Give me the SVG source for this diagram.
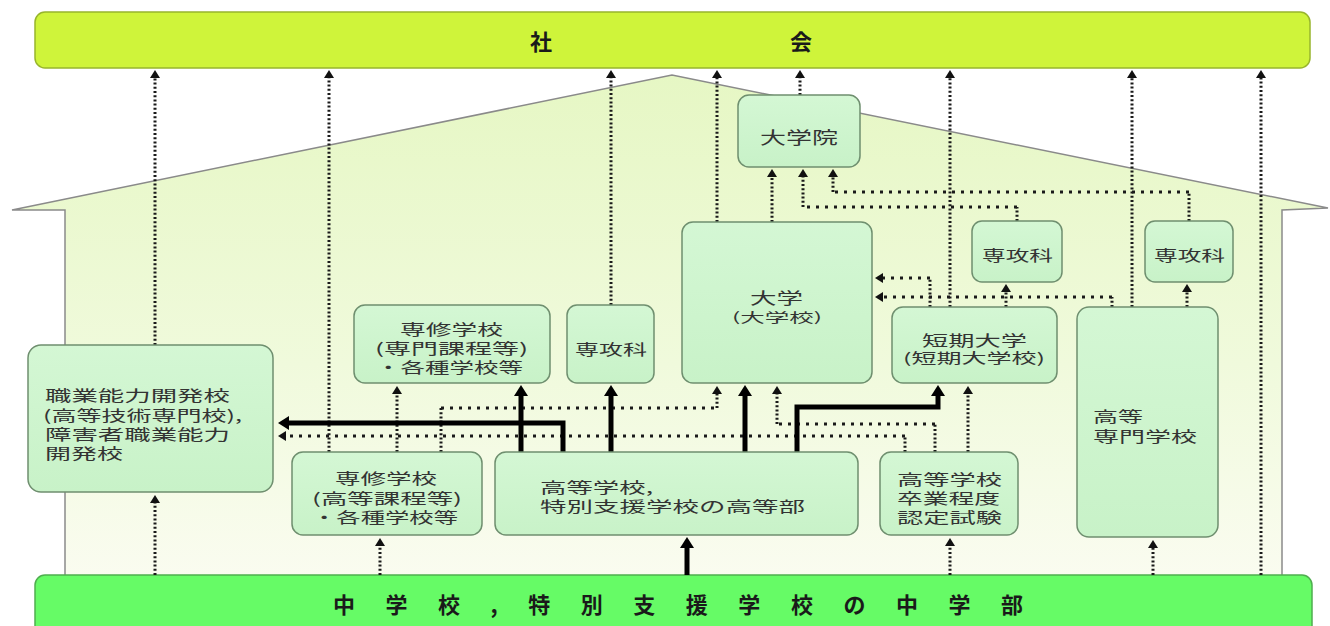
<svg xmlns="http://www.w3.org/2000/svg" width="1330" height="626" viewBox="0 0 1330 626">
<defs>
<linearGradient id="hg" x1="0" y1="0" x2="0" y2="1">
<stop offset="0" stop-color="#e6f7c4"/>
<stop offset="0.55" stop-color="#f0fadc"/>
<stop offset="1" stop-color="#fbfcf2"/>
</linearGradient>
<linearGradient id="ng" x1="0" y1="0" x2="0" y2="1">
<stop offset="0" stop-color="#d4f7d4"/>
<stop offset="1" stop-color="#c8f2c8"/>
</linearGradient>
<marker id="ad" viewBox="0 0 8 10" refX="4" refY="5" markerWidth="8" markerHeight="10" markerUnits="userSpaceOnUse" orient="auto">
<path d="M0,0 L8,5 L0,10 z" fill="#111"/>
</marker>
<marker id="as" viewBox="0 0 11 14" refX="5" refY="7" markerWidth="11" markerHeight="14" markerUnits="userSpaceOnUse" orient="auto">
<path d="M0,0 L11,7 L0,14 z" fill="#000"/>
</marker>
</defs>
<style>
.nd{fill:url(#ng);stroke:#6f8f6f;stroke-width:1.5}
.t{font-family:"Noto Sans CJK JP","Noto Sans CJK SC",sans-serif;font-size:15px;fill:#333;dominant-baseline:central}
.b{font-family:"Noto Sans CJK JP","Noto Sans CJK SC",sans-serif;font-size:22px;font-weight:bold;fill:#1a1a1a;dominant-baseline:central}
.dv{fill:none;stroke:#1a1a1a;stroke-width:3;stroke-dasharray:2 2.2}
.dh{fill:none;stroke:#1a1a1a;stroke-width:3;stroke-dasharray:3 6}
.s{fill:none;stroke:#000;stroke-width:5;stroke-linejoin:miter}
.ea{marker-end:url(#ad)}
.es{marker-end:url(#as)}
</style>

<g id="house">
<path d="M12,210 L672,75 L1328,208 L1282,210 L1282,600 L65,600 L65,210 Z" fill="url(#hg)" stroke="none"/>
<path d="M65,600 L65,210 L12,210 L672,75 L1328,208 L1282,210 L1282,600" fill="none" stroke="#8a8a8a" stroke-width="1.5"/>
</g>

<g id="shakai">
<rect x="35" y="12" width="1275" height="56" rx="10" fill="#cff43a" stroke="#98b52c" stroke-width="1.5"/>
<text class="b" x="541" y="40" text-anchor="middle">社</text>
<text class="b" x="801" y="40" text-anchor="middle">会</text>
</g>

<g id="chugakko">
<rect x="35" y="575" width="1277" height="70" rx="10" fill="#66fb66" stroke="#4fae4f" stroke-width="1.5"/>
<text class="b" x="333" y="603" textLength="690" lengthAdjust="spacing">中学校,特別支援学校の中学部</text>
</g>

<g id="connectors">
<line class="dv ea" x1="155" y1="345" x2="155" y2="74"/>
<line class="dv ea" x1="329" y1="452" x2="329" y2="74"/>
<line class="dv ea" x1="611" y1="305" x2="611" y2="74"/>
<line class="dv ea" x1="717" y1="222" x2="717" y2="74"/>
<line class="dv ea" x1="800" y1="95" x2="800" y2="74"/>
<line class="dv ea" x1="950" y1="307" x2="950" y2="74"/>
<line class="dv ea" x1="1132" y1="307" x2="1132" y2="74"/>
<line class="dv ea" x1="1261" y1="575" x2="1261" y2="74"/>
<line class="dv ea" x1="155" y1="575" x2="155" y2="499"/>
<line class="dv ea" x1="380" y1="575" x2="380" y2="542"/>
<line class="dv ea" x1="950" y1="575" x2="950" y2="542"/>
<line class="dv ea" x1="1153" y1="575" x2="1153" y2="544"/>
<path class="s es" d="M687,575 V543"/>
<line class="dv ea" x1="772" y1="222" x2="772" y2="173"/>
<line class="dv" x1="1017" y1="221" x2="1017" y2="207"/>
<line class="dh" x1="1017" y1="207" x2="803" y2="207"/>
<line class="dv ea" x1="803" y1="207" x2="803" y2="173"/>
<line class="dv" x1="1189" y1="221" x2="1189" y2="192"/>
<line class="dh" x1="1189" y1="192" x2="833" y2="192"/>
<line class="dv ea" x1="833" y1="192" x2="833" y2="173"/>
<line class="dv ea" x1="1006" y1="307" x2="1006" y2="288"/>
<line class="dv ea" x1="1187" y1="307" x2="1187" y2="288"/>
<line class="dv" x1="930" y1="307" x2="930" y2="278"/>
<line class="dh ea" x1="930" y1="278" x2="879" y2="278"/>
<line class="dv" x1="1112" y1="307" x2="1112" y2="297"/>
<line class="dh ea" x1="1112" y1="297" x2="879" y2="297"/>
<line class="dv ea" x1="397" y1="452" x2="397" y2="390"/>
<line class="dv" x1="441" y1="452" x2="441" y2="408"/>
<line class="dh" x1="441" y1="408" x2="717" y2="408"/>
<line class="dv ea" x1="717" y1="408" x2="717" y2="390"/>
<line class="dv" x1="905" y1="452" x2="905" y2="436"/>
<line class="dh ea" x1="905" y1="436" x2="282" y2="436"/>
<line class="dv" x1="935" y1="452" x2="935" y2="424"/>
<line class="dh" x1="935" y1="424" x2="777" y2="424"/>
<line class="dv ea" x1="777" y1="424" x2="777" y2="390"/>
<line class="dv ea" x1="968" y1="452" x2="968" y2="390"/>
<path class="s es" d="M521,452 V391"/>
<path class="s es" d="M611,452 V391"/>
<path class="s es" d="M745,452 V391"/>
<path class="s es" d="M797,452 V407 H938 V391"/>
<path class="s es" d="M563,452 V423 H284"/>
</g>

<g id="daigakuin">
<rect class="nd" x="738" y="95" width="122" height="72" rx="11"/>
<text class="t" x="760" y="136" textLength="78" lengthAdjust="spacingAndGlyphs" style="font-size:17px">大学院</text>
</g>

<g id="daigaku">
<rect class="nd" x="682" y="222" width="190" height="161" rx="11"/>
<text class="t" x="750" y="297" textLength="53" lengthAdjust="spacingAndGlyphs" style="font-size:16px">大学</text>
<text class="t" x="732" y="316" textLength="90" lengthAdjust="spacingAndGlyphs" style="font-size:13px">(大学校)</text>
</g>

<g id="senkoka-a">
<rect class="nd" x="972" y="221" width="90" height="61" rx="10"/>
<text class="t" x="982" y="254" textLength="71" lengthAdjust="spacingAndGlyphs">専攻科</text>
</g>

<g id="senkoka-b">
<rect class="nd" x="1145" y="221" width="88" height="61" rx="10"/>
<text class="t" x="1154" y="254" textLength="71" lengthAdjust="spacingAndGlyphs">専攻科</text>
</g>

<g id="senkoka-c">
<rect class="nd" x="567" y="305" width="87" height="78" rx="10"/>
<text class="t" x="575" y="348" textLength="72" lengthAdjust="spacingAndGlyphs">専攻科</text>
</g>

<g id="senshu-senmon">
<rect class="nd" x="354" y="305" width="196" height="78" rx="11"/>
<text class="t" x="400" y="328" textLength="103" lengthAdjust="spacingAndGlyphs">専修学校</text>
<text class="t" x="375" y="347" textLength="153" lengthAdjust="spacingAndGlyphs">(専門課程等)</text>
<text class="t" x="376" y="366" textLength="147" lengthAdjust="spacingAndGlyphs">・各種学校等</text>
</g>

<g id="shokugyo">
<rect class="nd" x="28" y="345" width="245" height="147" rx="13"/>
<text class="t" x="45" y="394" textLength="185" lengthAdjust="spacingAndGlyphs">職業能力開発校</text>
<text class="t" x="43" y="414" textLength="199" lengthAdjust="spacingAndGlyphs">(高等技術専門校),</text>
<text class="t" x="45" y="433" textLength="185" lengthAdjust="spacingAndGlyphs">障害者職業能力</text>
<text class="t" x="45" y="452" textLength="78" lengthAdjust="spacingAndGlyphs">開発校</text>
</g>

<g id="senshu-koto">
<rect class="nd" x="292" y="452" width="190" height="83" rx="11"/>
<text class="t" x="335" y="477" textLength="102" lengthAdjust="spacingAndGlyphs">専修学校</text>
<text class="t" x="312" y="497" textLength="150" lengthAdjust="spacingAndGlyphs">(高等課程等)</text>
<text class="t" x="312" y="516" textLength="146" lengthAdjust="spacingAndGlyphs">・各種学校等</text>
</g>

<g id="kotogakko">
<rect class="nd" x="495" y="452" width="363" height="83" rx="11"/>
<text class="t" x="540" y="486" textLength="113" lengthAdjust="spacingAndGlyphs">高等学校,</text>
<text class="t" x="540" y="505" textLength="265" lengthAdjust="spacingAndGlyphs">特別支援学校の高等部</text>
</g>

<g id="tanki">
<rect class="nd" x="892" y="307" width="165" height="76" rx="11"/>
<text class="t" x="922" y="339" textLength="105" lengthAdjust="spacingAndGlyphs">短期大学</text>
<text class="t" x="903" y="357" textLength="142" lengthAdjust="spacingAndGlyphs" style="font-size:14px">(短期大学校)</text>
</g>

<g id="nintei">
<rect class="nd" x="880" y="452" width="138" height="83" rx="11"/>
<text class="t" x="897" y="478" textLength="105" lengthAdjust="spacingAndGlyphs">高等学校</text>
<text class="t" x="897" y="497" textLength="103" lengthAdjust="spacingAndGlyphs">卒業程度</text>
<text class="t" x="897" y="516" textLength="105" lengthAdjust="spacingAndGlyphs">認定試験</text>
</g>

<g id="kosen">
<rect class="nd" x="1077" y="307" width="141" height="230" rx="12"/>
<text class="t" x="1093" y="415" textLength="50" lengthAdjust="spacingAndGlyphs">高等</text>
<text class="t" x="1093" y="435" textLength="104" lengthAdjust="spacingAndGlyphs">専門学校</text>
</g>
</svg>
